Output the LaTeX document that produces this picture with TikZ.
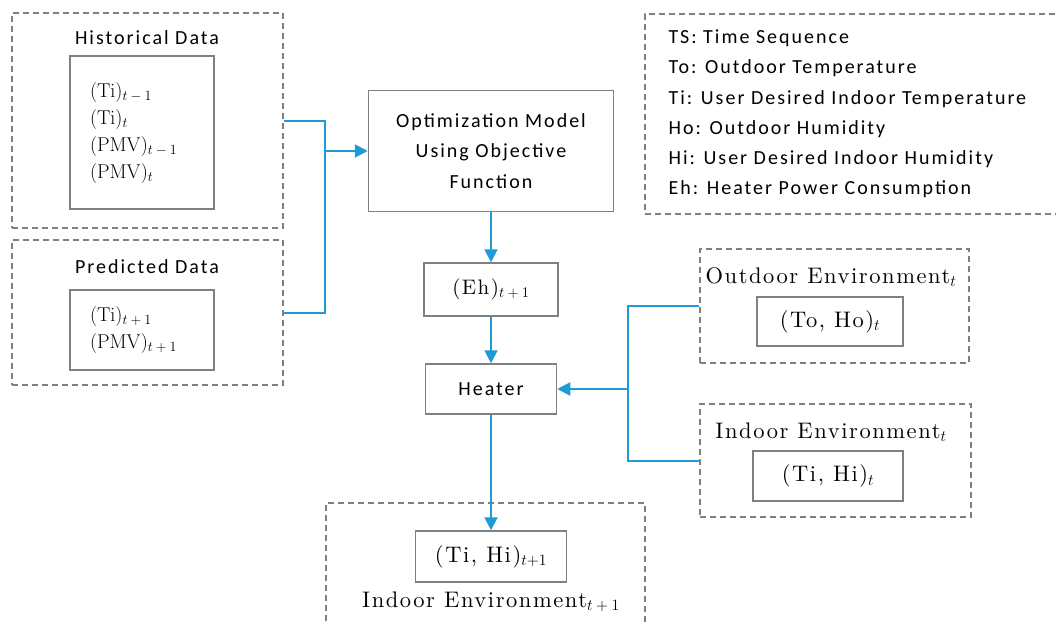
\RequirePackage{fix-cm}
\documentclass[tikz,border=0pt]{standalone}
\usepackage[no-math]{fontspec}
\setsansfont{Carlito}[LetterSpace=10]
\newfontfamily\envfont{lmroman10-regular.otf}[LetterSpace=7]
\usetikzlibrary{arrows.meta}
\definecolor{linegray}{RGB}{128,128,128}
\definecolor{flowblue}{RGB}{30,155,215}
\begin{document}
\begin{tikzpicture}[x=1pt,y=-1pt,
    box/.style={draw=linegray, line width=1.5pt, inner sep=0pt},
    dbox/.style={draw=linegray, line width=1.5pt, dash pattern=on 6pt off 4pt, inner sep=0pt},
    link/.style={draw=flowblue, line width=2pt},
    flow/.style={link, -{Triangle[length=13pt,width=13pt]}},
    lbl/.style={font=\sffamily\fontsize{20}{30.5}\selectfont},
    mth/.style={font=\fontsize{20}{27}\selectfont},
    envlbl/.style={font=\envfont\fontsize{22.5}{26}\selectfont}]
    \useasboundingbox (0,0) rectangle (1056,621);

    % Historical data
    \node[dbox, minimum width=271, minimum height=215] (hist) at (147.5,120.5) {};
    \node[lbl] (histlbl) at (147,38) {Historical Data};
    \node[box, mth, minimum width=144, minimum height=153, text width=104, inner xsep=20pt, align=left] (histval) at (142,132.5)
        {$(\mathrm{Ti})_{t\>-\>1}$\\ $(\mathrm{Ti})_t$\\ $(\mathrm{PMV})_{t\>-\>1}$\\ $(\mathrm{PMV})_t$};

    % Predicted data
    \node[dbox, minimum width=271, minimum height=145] (pred) at (147.5,312.5) {};
    \node[lbl] (predlbl) at (147,267) {Predicted Data};
    \node[box, mth, minimum width=144, minimum height=80, text width=104, inner xsep=20pt, align=left] (predval) at (142,330)
        {$(\mathrm{Ti})_{t\>+\>1}$\\ $(\mathrm{PMV})_{t\>+\>1}$};

    % Model, power and heater
    \node[box, lbl, minimum width=245, minimum height=121, align=center] (opt) at (491,151)
        {Optimization Model\\ Using Objective\\ Function};
    \node[box, font=\envfont\fontsize{21}{26}\selectfont, minimum width=134, minimum height=53] (eh) at (491,289.5)
        {(Eh)$_{t\>+\>1}$};
    \node[box, lbl, minimum width=131, minimum height=50] (heater) at (491,389) {Heater};

    % Environments at t
    \node[dbox, minimum width=269, minimum height=114] (outenv) at (834.5,306) {};
    \node[envlbl] (outlbl) at (831,277) {Outdoor Environment$_t$};
    \node[box, envlbl, minimum width=146, minimum height=49] (outval) at (830,321.5) {(To, Ho)$_t$};

    \node[dbox, minimum width=271, minimum height=113] (inenv) at (835.5,460.5) {};
    \node[envlbl] (inlbl) at (831,432) {Indoor Environment$_t$};
    \node[box, envlbl, minimum width=150, minimum height=50] (inval) at (828,476) {(Ti, Hi)$_t$};

    % Environment at t+1
    \node[dbox, minimum width=319, minimum height=140] (nextenv) at (485.5,573) {};
    \node[box, envlbl, minimum width=151, minimum height=51] (nextval) at (491,556.5) {(Ti, Hi)$_{t+1}$};
    \node[envlbl] (nextlbl) at (491,602) {Indoor Environment$_{t\>+\>1}$};

    % Legend
    \node[dbox, minimum width=420, minimum height=200, anchor=north west] (legend) at (644,13) {};
    \node[lbl, font=\sffamily\fontsize{20}{30.2}\selectfont, anchor=west, align=left] (legendtxt) at (665,114)
        {TS: Time Sequence\\ To: Outdoor Temperature\\ Ti: User Desired Indoor Temperature\\
         Ho: Outdoor Humidity\\ Hi: User Desired Indoor Humidity\\ Eh: Heater Power Consumption};

    % Connectors
    \coordinate (jl) at (325,151);
    \coordinate (jr) at (628,389);
    \draw[link] (hist.east) -| (jl) |- (pred.east);
    \draw[flow] (jl) -- (opt.west);
    \draw[flow] (opt.south) -- (eh.north);
    \draw[flow] (eh.south) -- (heater.north);
    \draw[link] (outenv.west) -| (jr) |- (inenv.west);
    \draw[flow] (jr) -- (heater.east);
    \draw[flow] (heater.south) -- (nextval.north);
\end{tikzpicture}
\end{document}
